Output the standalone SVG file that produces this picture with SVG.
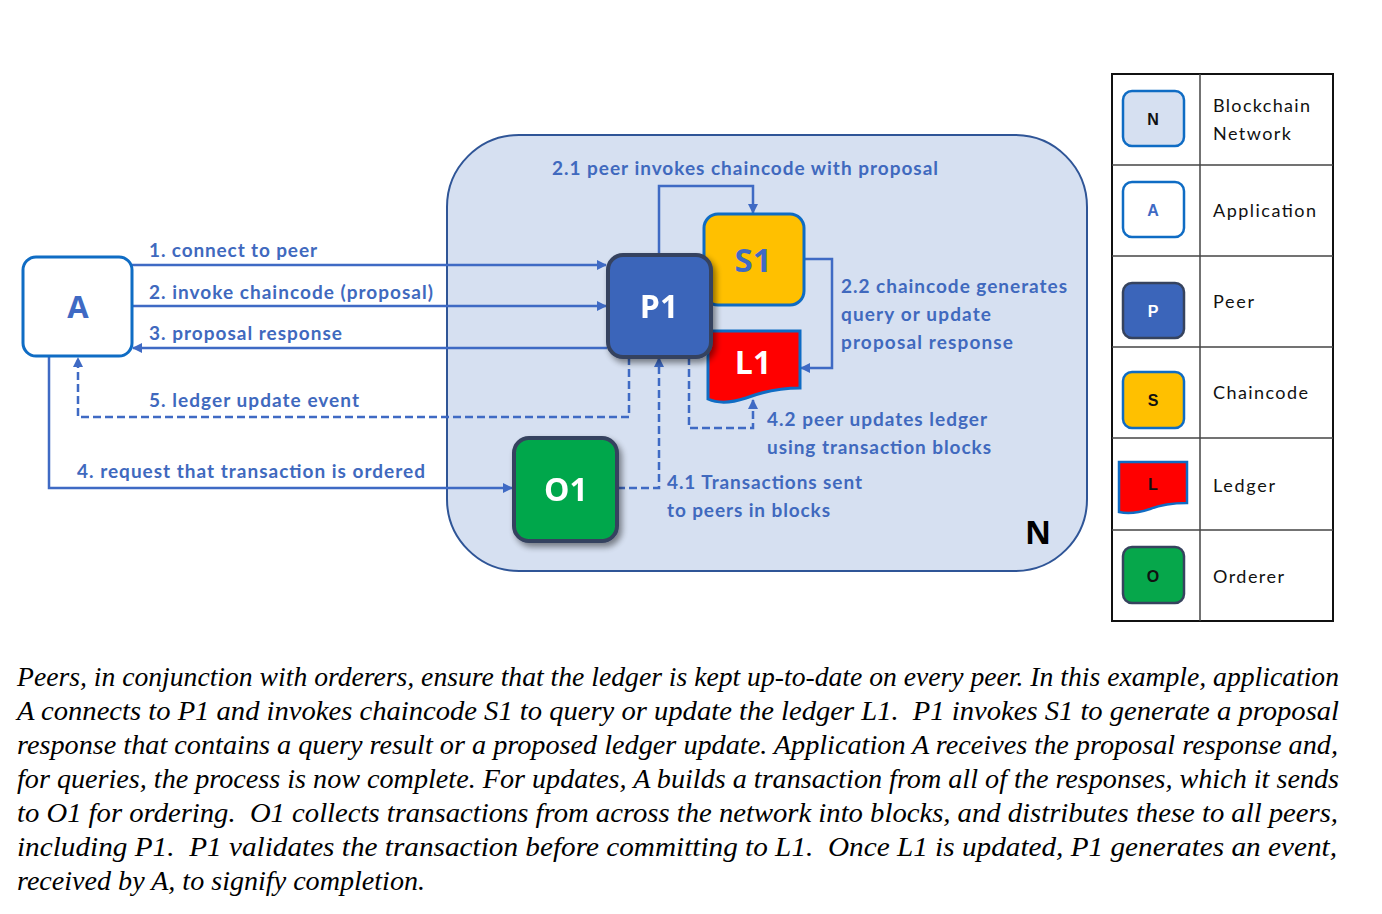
<svg xmlns="http://www.w3.org/2000/svg" width="1382" height="914" viewBox="0 0 1382 914">
<style>
.lbl{font-family:Lato,"Liberation Sans",sans-serif;font-weight:bold;font-size:19px;fill:#4069BE}
.conn{fill:none;stroke:#3F6AC4;stroke-width:2.5}
.dash{stroke-dasharray:8 4}
.big{font-family:"Open Sans","Liberation Sans",sans-serif;font-weight:bold;text-anchor:middle}
.leg{font-family:Lato,"Liberation Sans",sans-serif;font-size:18px;fill:#111}
.legi{font-family:"Liberation Sans",sans-serif;font-weight:bold;font-size:16px;text-anchor:middle}
.cap{font-family:"Liberation Serif","Times New Roman",serif;font-style:italic;font-size:28px;fill:#000;white-space:pre}
.grid{stroke:#444;stroke-width:1.5}
</style>
<defs>
<marker id="ah" markerUnits="userSpaceOnUse" markerWidth="10" markerHeight="10" viewBox="0 0 10 10" refX="9" refY="5" orient="auto">
<path d="M0,0 L10,5 L0,10 z" fill="#3F6AC4"/>
</marker>
<filter id="sh" x="-20%" y="-20%" width="150%" height="150%">
<feGaussianBlur in="SourceAlpha" stdDeviation="3"/>
<feOffset dx="3" dy="4" result="b"/>
<feComponentTransfer><feFuncA type="linear" slope="0.45"/></feComponentTransfer>
<feMerge><feMergeNode/><feMergeNode in="SourceGraphic"/></feMerge>
</filter>
</defs>
<rect width="1382" height="914" fill="#fff"/>

<g id="N">
<rect x="447" y="135" width="640" height="436" rx="72" fill="#D6E0F1" stroke="#2F5597" stroke-width="2"/>
<text x="1038" y="544" class="big" font-size="32" fill="#000" font-family="Liberation Sans">N</text>
</g>

<g id="connectors">
<path class="conn" d="M132,265 H606" marker-end="url(#ah)"/>
<path class="conn" d="M132,306 H606" marker-end="url(#ah)"/>
<path class="conn" d="M607,348 H133" marker-end="url(#ah)"/>
<path class="conn dash" d="M629,357 V417 H78 V358" marker-end="url(#ah)"/>
<path class="conn" d="M49,356 V488 H512" marker-end="url(#ah)"/>
<path class="conn" d="M659,255 V186 H753 V213" marker-end="url(#ah)"/>
<path class="conn" d="M804,259 H832 V368 H801" marker-end="url(#ah)"/>
<path class="conn dash" d="M617,488 H659 V358" marker-end="url(#ah)"/>
<path class="conn dash" d="M689,357 V428 H753 V400" marker-end="url(#ah)"/>
<text class="lbl" x="149" y="257" textLength="168">1. connect to peer</text>
<text class="lbl" x="149" y="299" textLength="284">2. invoke chaincode (proposal)</text>
<text class="lbl" x="149" y="340" textLength="193">3. proposal response</text>
<text class="lbl" x="149" y="407" textLength="210">5. ledger update event</text>
<text class="lbl" x="77" y="478" textLength="348">4. request that transaction is ordered</text>
<text class="lbl" x="552" y="175" textLength="386">2.1 peer invokes chaincode with proposal</text>
<text class="lbl" x="841" y="293" textLength="226">2.2 chaincode generates</text>
<text class="lbl" x="841" y="321" textLength="150">query or update</text>
<text class="lbl" x="841" y="349" textLength="172">proposal response</text>
<text class="lbl" x="667" y="489" textLength="195">4.1 Transactions sent</text>
<text class="lbl" x="667" y="517" textLength="163">to peers in blocks</text>
<text class="lbl" x="767" y="426" textLength="220">4.2 peer updates ledger</text>
<text class="lbl" x="767" y="454" textLength="224">using transaction blocks</text>
</g>

<g id="S1">
<rect x="704" y="214" width="100" height="91" rx="14" fill="#FFC000" stroke="#0F6CC4" stroke-width="3"/>
<text x="753" y="272" class="big" font-size="33" fill="#3F6AC4">S1</text>
</g>

<g id="L1">
<path d="M708,331 H800 V388 C778,388 762,392 746,398 C731,403 719,404 708,399 Z" fill="#FF0000" stroke="#0F6CC4" stroke-width="3"/>
<text x="753" y="374" class="big" font-size="32" fill="#fff">L1</text>
</g>

<g id="P1" filter="url(#sh)">
<rect x="608" y="255" width="103" height="102" rx="15" fill="#3B65BA" stroke="#36435E" stroke-width="4"/>
<text x="659" y="318" class="big" font-size="32" fill="#fff">P1</text>
</g>

<g id="O1" filter="url(#sh)">
<rect x="514" y="438" width="103" height="103" rx="15" fill="#06A74B" stroke="#36435E" stroke-width="4"/>
<text x="566" y="501" class="big" font-size="32" fill="#fff">O1</text>
</g>

<g id="A">
<rect x="23" y="257" width="109" height="99" rx="13" fill="#fff" stroke="#0F6CC4" stroke-width="3"/>
<text x="78" y="318" class="big" font-size="31" fill="#3F6AC4">A</text>
</g>

<g id="legend">
<rect x="1112" y="74" width="221" height="547" fill="#fff" stroke="#111" stroke-width="2"/>
<line class="grid" x1="1200" y1="74" x2="1200" y2="621"/>
<line class="grid" x1="1112" y1="165" x2="1333" y2="165"/>
<line class="grid" x1="1112" y1="256" x2="1333" y2="256"/>
<line class="grid" x1="1112" y1="347" x2="1333" y2="347"/>
<line class="grid" x1="1112" y1="438" x2="1333" y2="438"/>
<line class="grid" x1="1112" y1="530" x2="1333" y2="530"/>
<rect x="1123" y="91" width="61" height="55" rx="9" fill="#D6E0F1" stroke="#0F6CC4" stroke-width="2.5"/>
<text x="1153" y="125" class="legi" fill="#111">N</text>
<rect x="1123" y="182" width="61" height="55" rx="9" fill="#fff" stroke="#0F6CC4" stroke-width="2.5"/>
<text x="1153" y="216" class="legi" fill="#3F6AC4">A</text>
<rect x="1123" y="283" width="61" height="55" rx="9" fill="#3B65BA" stroke="#36435E" stroke-width="2.5"/>
<text x="1153" y="317" class="legi" fill="#fff">P</text>
<rect x="1123" y="372" width="61" height="56" rx="9" fill="#FFC000" stroke="#0F6CC4" stroke-width="2.5"/>
<text x="1153" y="406" class="legi" fill="#111">S</text>
<path d="M1119,462 H1187 V503 C1170,503 1160,505 1150,509 C1138,513 1128,514 1119,512 Z" fill="#FF0000" stroke="#0F6CC4" stroke-width="2.5"/>
<text x="1153" y="490" class="legi" fill="#111">L</text>
<rect x="1123" y="547" width="61" height="56" rx="9" fill="#06A74B" stroke="#36435E" stroke-width="2.5"/>
<text x="1153" y="582" class="legi" fill="#111">O</text>
<text class="leg" x="1213" y="112" textLength="97">Blockchain</text>
<text class="leg" x="1213" y="140" textLength="78">Network</text>
<text class="leg" x="1213" y="217" textLength="103">Application</text>
<text class="leg" x="1213" y="308" textLength="41">Peer</text>
<text class="leg" x="1213" y="399" textLength="95">Chaincode</text>
<text class="leg" x="1213" y="492" textLength="62">Ledger</text>
<text class="leg" x="1213" y="583" textLength="71">Orderer</text>
</g>

<g id="caption">
<text class="cap" x="17" y="686" textLength="1322" lengthAdjust="spacingAndGlyphs">Peers, in conjunction with orderers, ensure that the ledger is kept up-to-date on every peer. In this example, application</text>
<text class="cap" x="17" y="720" textLength="1322" lengthAdjust="spacingAndGlyphs">A connects to P1 and invokes chaincode S1 to query or update the ledger L1.  P1 invokes S1 to generate a proposal</text>
<text class="cap" x="17" y="754" textLength="1321" lengthAdjust="spacingAndGlyphs">response that contains a query result or a proposed ledger update. Application A receives the proposal response and,</text>
<text class="cap" x="17" y="788" textLength="1322" lengthAdjust="spacingAndGlyphs">for queries, the process is now complete. For updates, A builds a transaction from all of the responses, which it sends</text>
<text class="cap" x="17" y="822" textLength="1321" lengthAdjust="spacingAndGlyphs">to O1 for ordering.  O1 collects transactions from across the network into blocks, and distributes these to all peers,</text>
<text class="cap" x="17" y="856" textLength="1320" lengthAdjust="spacingAndGlyphs">including P1.  P1 validates the transaction before committing to L1.  Once L1 is updated, P1 generates an event,</text>
<text class="cap" x="17" y="890" textLength="408" lengthAdjust="spacingAndGlyphs">received by A, to signify completion.</text>
</g>
</svg>
